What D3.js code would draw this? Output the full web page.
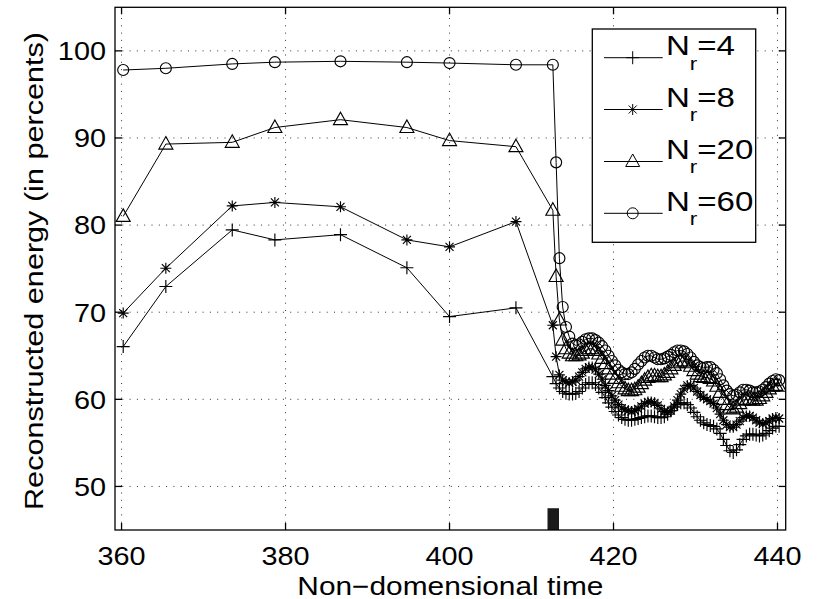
<!DOCTYPE html>
<html>
<head>
<meta charset="utf-8">
<script src="https://cdn.jsdelivr.net/npm/d3@7"></script>
<style>
body { margin: 0; background: #fff; }
svg text { font-family: "Liberation Sans", Arial, sans-serif; fill: #000; }
</style>
</head>
<body>
<div id="chart"></div>
<script>
// time samples (sparse snapshots, then dense after the drop)
const times = [360.2, 365.4, 373.5, 378.7, 386.7, 394.8, 400.0, 408.1,
  412.6, 413.0, 413.4, 413.8, 414.2, 414.6, 415.0, 415.4, 415.8, 416.2,
  416.6, 417.0, 417.4, 417.8, 418.2, 418.6, 419.0, 419.4, 419.8, 420.2,
  420.6, 421.0, 421.4, 421.8, 422.2, 422.6, 423.0, 423.4, 423.8, 424.2,
  424.6, 425.0, 425.4, 425.8, 426.2, 426.6, 427.0, 427.4, 427.8, 428.2,
  428.6, 429.0, 429.4, 429.8, 430.2, 430.6, 431.0, 431.4, 431.8, 432.2,
  432.6, 433.0, 433.4, 433.8, 434.2, 434.6, 435.0, 435.4, 435.8, 436.2,
  436.6, 437.0, 437.4, 437.8, 438.2, 438.6, 439.0, 439.4, 439.8, 440.2];

const nr4 = [66.05, 72.95, 79.45, 78.3, 78.9, 75.1, 69.5, 70.5,
  62.6, 61.8, 61.3, 60.9, 60.7, 60.6, 60.6, 60.7, 60.9, 61.3,
  61.7, 61.9, 61.9, 61.7, 61.3, 60.8, 60.2, 59.6, 59.1, 58.6,
  58.2, 57.9, 57.7, 57.6, 57.6, 57.7, 57.8, 57.9, 58.0, 58.1,
  58.1, 58.0, 57.9, 57.9, 58.0, 58.3, 58.7, 59.1, 59.4, 59.6,
  59.6, 59.4, 59.0, 58.5, 58.0, 57.6, 57.3, 57.1, 57.0, 56.9,
  56.6, 56.1, 55.4, 54.7, 54.1, 53.9, 54.2, 54.8, 55.4, 55.8,
  56.0, 56.0, 55.9, 55.8, 55.9, 56.1, 56.4, 56.7, 56.9, 56.9];

const nr8 = [69.9, 75.05, 82.2, 82.6, 82.1, 78.3, 77.5, 80.4,
  68.5, 64.9, 62.8, 62.2, 62.0, 61.9, 62.0, 62.2, 62.6, 63.1,
  63.5, 63.7, 63.7, 63.4, 62.9, 62.3, 61.6, 61.0, 60.4, 59.9,
  59.4, 59.0, 58.8, 58.7, 58.6, 58.7, 58.9, 59.2, 59.5, 59.7,
  59.7, 59.6, 59.3, 58.9, 58.6, 58.5, 58.7, 59.2, 59.9, 60.6,
  61.2, 61.6, 61.6, 61.3, 60.9, 60.5, 60.2, 60.0, 59.8, 59.5,
  59.0, 58.3, 57.6, 57.1, 56.8, 56.8, 57.1, 57.5, 57.9, 58.1,
  58.1, 57.9, 57.6, 57.3, 57.2, 57.3, 57.5, 57.8, 57.9, 57.8];

const nr20 = [81.0, 89.3, 89.5, 91.2, 92.1, 91.2, 89.7, 89.0,
  81.7, 74.1, 69.1, 66.8, 65.8, 65.3, 65.0, 65.0, 65.1, 65.3,
  65.6, 65.8, 65.8, 65.6, 65.2, 64.7, 64.1, 63.5, 62.9, 62.4,
  61.9, 61.5, 61.2, 61.0, 61.0, 61.1, 61.4, 61.8, 62.2, 62.5,
  62.7, 62.7, 62.6, 62.6, 62.8, 63.1, 63.5, 63.9, 64.2, 64.4,
  64.4, 64.2, 63.8, 63.3, 62.9, 62.6, 62.5, 62.5, 62.4, 62.1,
  61.5, 60.8, 60.0, 59.4, 59.0, 58.9, 59.1, 59.5, 59.9, 60.0,
  60.0, 59.9, 59.9, 60.1, 60.4, 60.8, 61.2, 61.5, 61.6, 61.5];

const nr60 = [97.8, 98.0, 98.5, 98.7, 98.8, 98.7, 98.6, 98.4,
  98.4, 87.2, 76.2, 70.6, 68.3, 67.2, 66.4, 66.2, 66.3, 66.6,
  66.9, 67.0, 67.0, 66.8, 66.5, 66.1, 65.6, 65.0, 64.4, 63.9,
  63.4, 63.1, 62.9, 62.9, 63.1, 63.5, 64.0, 64.4, 64.8, 65.0,
  65.0, 64.8, 64.6, 64.6, 64.7, 64.9, 65.1, 65.4, 65.6, 65.6,
  65.5, 65.2, 64.8, 64.3, 63.9, 63.7, 63.6, 63.7, 63.7, 63.4,
  63.0, 62.3, 61.6, 61.0, 60.6, 60.4, 60.5, 60.8, 61.1, 61.1,
  61.0, 60.8, 60.8, 60.9, 61.1, 61.4, 61.8, 62.1, 62.3, 62.2];

const seriesLabels = ["4", "8", "20", "60"];
const seriesMarkers = ["plus", "star", "triangle", "circle"];
const xTicks = [360, 380, 400, 420, 440];
const yTicks = [50, 60, 70, 80, 90, 100];
// dark block sitting on the x axis near t = 412.6
const blockT = [411.95, 413.35];
const blockV = [45, 47.5];

const W = 818, H = 599;
const m = {top: 7.3, right: 32.3, bottom: 69, left: 115};

const svg = d3.select("#chart").append("svg")
  .attr("width", W).attr("height", H)
  .attr("viewBox", [0, 0, W, H]);

const x = d3.scaleLinear().domain([359.2, 441]).range([m.left, W - m.right]);
const y = d3.scaleLinear().domain([45, 105]).range([H - m.bottom, m.top]);

svg.append("defs").append("clipPath").attr("id", "plotclip")
  .append("rect")
  .attr("x", m.left).attr("y", m.top)
  .attr("width", W - m.right - m.left).attr("height", H - m.bottom - m.top);

// dotted grid
const grid = svg.append("g").attr("stroke", "#333").attr("stroke-width", 1)
  .attr("stroke-dasharray", "1,6.3");
grid.selectAll("line.gx").data(xTicks).join("line").attr("class", "gx")
  .attr("x1", d => x(d)).attr("x2", d => x(d))
  .attr("y1", y.range()[0]).attr("y2", y.range()[1]);
grid.selectAll("line.gy").data(yTicks).join("line").attr("class", "gy")
  .attr("y1", d => y(d)).attr("y2", d => y(d))
  .attr("x1", x.range()[0]).attr("x2", x.range()[1]);

// markers
function markerPath(type) {
  if (type === "plus") return "M-6.5,0H6.5M0,-6.5V6.5";
  if (type === "star") return "M-5.5,0H5.5M0,-5.5V5.5M-4,-4L4,4M-4,4L4,-4";
  if (type === "triangle") return "M0,-7.5L7,5H-7Z";
  return "M5.5,0A5.5,5.5 0 1,1 -5.5,0A5.5,5.5 0 1,1 5.5,0Z";
}

const allSeries = [nr4, nr8, nr20, nr60].map((vals, i) => ({
  label: seriesLabels[i],
  marker: seriesMarkers[i],
  points: vals.map((v, j) => ({t: times[j], v: v})).filter(d => d.t !== undefined)
}));

const plot = svg.append("g").attr("clip-path", "url(#plotclip)");

plot.selectAll("rect.block").data([0]).join("rect").attr("class", "block")
  .attr("x", x(blockT[0])).attr("width", x(blockT[1]) - x(blockT[0]))
  .attr("y", y(blockV[1])).attr("height", y(blockV[0]) - y(blockV[1]))
  .attr("fill", "#1a1a1a");

const line = d3.line().x(d => x(d.t)).y(d => y(d.v));

allSeries.forEach(s => {
  const g = plot.append("g");
  g.append("path").datum(s.points)
    .attr("d", line).attr("fill", "none")
    .attr("stroke", "#000").attr("stroke-width", 1);
  g.selectAll("path.mk").data(s.points).join("path").attr("class", "mk")
    .attr("transform", d => `translate(${x(d.t)},${y(d.v)})`)
    .attr("d", markerPath(s.marker))
    .attr("fill", "none").attr("stroke", "#000").attr("stroke-width", 1.15);
});

// axes box and inward ticks
const x0 = x.range()[0], x1 = x.range()[1], y0 = y.range()[0], y1 = y.range()[1];
const axes = svg.append("g").attr("stroke", "#000").attr("stroke-width", 1.3);
axes.append("rect").attr("x", x0).attr("y", y1).attr("width", x1 - x0).attr("height", y0 - y1)
  .attr("fill", "none");
const tk = 7;
axes.selectAll("line.tb").data(xTicks).join("line").attr("class", "tb")
  .attr("x1", d => x(d)).attr("x2", d => x(d)).attr("y1", y0).attr("y2", y0 - tk);
axes.selectAll("line.tt").data(xTicks).join("line").attr("class", "tt")
  .attr("x1", d => x(d)).attr("x2", d => x(d)).attr("y1", y1).attr("y2", y1 + tk);
axes.selectAll("line.tl").data(yTicks).join("line").attr("class", "tl")
  .attr("y1", d => y(d)).attr("y2", d => y(d)).attr("x1", x0).attr("x2", x0 + tk);
axes.selectAll("line.tr").data(yTicks).join("line").attr("class", "tr")
  .attr("y1", d => y(d)).attr("y2", d => y(d)).attr("x1", x1).attr("x2", x1 - tk);

// tick labels (glyphs a bit wider than plain Arial)
svg.append("g").selectAll("text").data(xTicks).join("text")
  .attr("transform", d => `translate(${x(d)},565) scale(1.11,1)`)
  .attr("text-anchor", "middle").attr("font-size", 26)
  .text(d => d);
svg.append("g").selectAll("text").data(yTicks).join("text")
  .attr("transform", d => `translate(${x0 - 9},${y(d) + 9.3}) scale(1.11,1)`)
  .attr("text-anchor", "end").attr("font-size", 26)
  .text(d => d);

// axis titles
svg.append("text")
  .attr("x", (x0 + x1) / 2).attr("y", 595)
  .attr("text-anchor", "middle").attr("font-size", 25.5)
  .attr("textLength", 306).attr("lengthAdjust", "spacingAndGlyphs")
  .text("Non\u2212domensional time");
svg.append("text")
  .attr("transform", `translate(43,271) rotate(-90)`)
  .attr("text-anchor", "middle").attr("font-size", 25)
  .attr("textLength", 478).attr("lengthAdjust", "spacingAndGlyphs")
  .text("Reconstructed energy (in percents)");

// legend
const leg = svg.append("g");
leg.append("rect").attr("x", 592.3).attr("y", 29).attr("width", 163.4).attr("height", 213.3)
  .attr("fill", "#fff").attr("stroke", "#000").attr("stroke-width", 1.3);
const legRowY = [57.7, 109.5, 161.5, 213.3];
allSeries.forEach((s, i) => {
  const ly = legRowY[i];
  leg.append("line").attr("x1", 604).attr("x2", 662.7).attr("y1", ly).attr("y2", ly)
    .attr("stroke", "#000").attr("stroke-width", 1);
  leg.append("path").attr("transform", `translate(632.7,${ly})`)
    .attr("d", markerPath(s.marker)).attr("fill", "none").attr("stroke", "#000");
  const t = leg.append("text")
    .attr("transform", `translate(666,${ly - 2.7}) scale(1.18,1)`)
    .attr("font-size", 28);
  t.append("tspan").text("N");
  t.append("tspan").attr("font-size", 19).attr("dy", 14.5).text("r");
  t.append("tspan").attr("dy", -14.5).text("=" + s.label);
});
</script>
</body>
</html>
